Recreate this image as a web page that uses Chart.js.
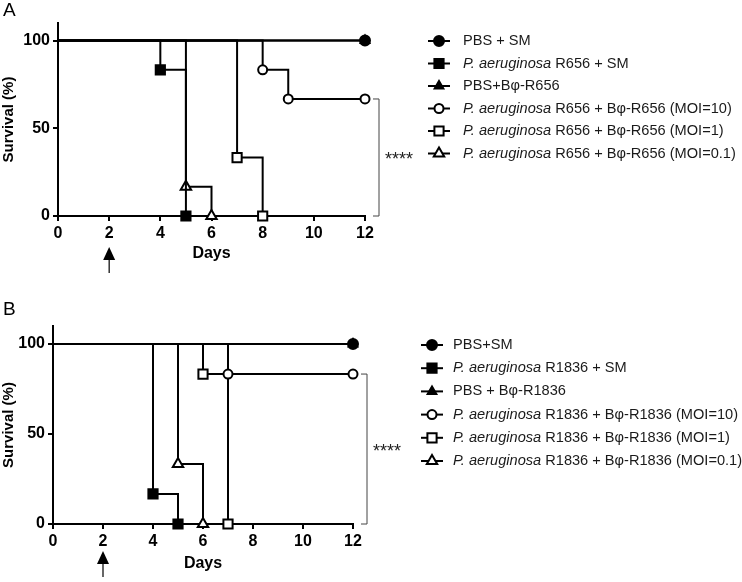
<!DOCTYPE html>
<html>
<head>
<meta charset="utf-8">
<script src="https://cdn.jsdelivr.net/npm/chart.js@4.4.0/dist/chart.umd.min.js"></script>
<style>
  html, body { margin: 0; padding: 0; background: #fff; }
  #wrap { position: relative; width: 742px; height: 582px; }
  .panel { position: absolute; left: 0; width: 742px; }
  #panelA { top: 0; height: 290px; }
  #panelB { top: 290px; height: 292px; }
</style>
</head>
<body>
<div id="wrap">
  <div class="panel" id="panelA"><canvas id="chartA"></canvas></div>
  <div class="panel" id="panelB"><canvas id="chartB"></canvas></div>
</div>
<script>
// ---- data ----
const xTicks = [0, 2, 4, 6, 8, 10, 12];
const yTicks = [0, 50, 100];
const arrowDay = 2;

// Panel A (R656)
const labelsA = [
    'PBS + SM',
    'P. aeruginosa R656 + SM',
    'PBS+B\u03c6-R656',
    'P. aeruginosa R656 + B\u03c6-R656 (MOI=10)',
    'P. aeruginosa R656 + B\u03c6-R656 (MOI=1)',
    'P. aeruginosa R656 + B\u03c6-R656 (MOI=0.1)',
];
const daysA = [[0, 12], [0, 4, 5], [0, 12], [0, 8, 9, 12], [0, 7, 8], [0, 5, 6]];
const survA = [[100, 100], [100, 83.3, 0], [100, 100], [100, 83.3, 66.7, 66.7], [100, 33.3, 0], [100, 16.7, 0]];
const bracketA = [66.7, 0];

// Panel B (R1836)
const labelsB = [
    'PBS+SM',
    'P. aeruginosa R1836 + SM',
    'PBS + B\u03c6-R1836',
    'P. aeruginosa R1836 + B\u03c6-R1836 (MOI=10)',
    'P. aeruginosa R1836 + B\u03c6-R1836 (MOI=1)',
    'P. aeruginosa R1836 + B\u03c6-R1836 (MOI=0.1)',
];
const daysB = [[0, 12], [0, 4, 5], [0, 12], [0, 7, 12], [0, 6, 7], [0, 5, 6]];
const survB = [[100, 100], [100, 16.7, 0], [100, 100], [100, 83.3, 83.3], [100, 83.3, 0], [100, 33.3, 0]];
const bracketB = [83.3, 0];

const significance = '****';

// marker look per series (same order in both panels)
const markers = [
    { style: 'circle', filled: true, r: 5 },
    { style: 'rect', filled: true, r: 6.5 },
    { style: 'triangle', filled: true, r: 5 },
    { style: 'circle', filled: false, r: 4.5 },
    { style: 'rect', filled: false, r: 6.5 },
    { style: 'triangle', filled: false, r: 6 },
];

const FONT = 'Arial, "Liberation Sans", sans-serif';
Chart.defaults.font.family = FONT;
Chart.defaults.color = '#000';

function buildDatasets(labels, days, surv) {
    return labels.map((label, i) => {
        const m = markers[i];
        return {
            label,
            data: days[i].map((d, j) => ({ x: d, y: surv[i][j] })),
            stepped: 'before',
            borderColor: '#000',
            borderWidth: 2,
            pointStyle: m.style,
            pointRadius: (ctx) => (ctx.dataIndex === 0 ? 0 : m.r),
            pointBorderWidth: 2,
            pointBorderColor: '#000',
            pointBackgroundColor: m.filled ? '#000' : '#fff',
            legendRadius: m.r,
            fill: false,
            clip: false,
        };
    });
}

// legend, bracket, arrow, panel letter
const extrasPlugin = {
    id: 'extras',
    afterDraw(chart, args, o) {
        const ctx = chart.ctx;
        const { x, y } = chart.scales;
        const area = chart.chartArea;
        ctx.save();

        // panel letter
        ctx.fillStyle = '#000';
        ctx.font = '19px ' + FONT;
        ctx.textAlign = 'left';
        ctx.textBaseline = 'alphabetic';
        ctx.fillText(o.letter, 3, o.letterY);

        // legend
        const italic = 'P. aeruginosa';
        chart.data.datasets.forEach((ds, i) => {
            const ly = o.legendY + i * o.legendDy;
            ctx.strokeStyle = '#000';
            ctx.lineWidth = 2;
            ctx.beginPath();
            ctx.moveTo(o.markX - 11, ly);
            ctx.lineTo(o.markX + 11, ly);
            ctx.stroke();
            ctx.fillStyle = ds.pointBackgroundColor;
            Chart.helpers.drawPoint(ctx, { pointStyle: ds.pointStyle, radius: ds.legendRadius, borderWidth: 2, rotation: 0 }, o.markX, ly);

            let tx = o.textX;
            let rest = ds.label;
            ctx.fillStyle = '#1a1a1a';
            ctx.textBaseline = 'middle';
            if (rest.startsWith(italic)) {
                ctx.font = 'italic 14.6px ' + FONT;
                ctx.fillText(italic, tx, ly);
                tx += ctx.measureText(italic).width;
                rest = rest.slice(italic.length);
            }
            ctx.font = '14.6px ' + FONT;
            ctx.fillText(rest, tx, ly);
        });

        // significance bracket
        const yTop = y.getPixelForValue(o.bracket[0]);
        const yBot = y.getPixelForValue(o.bracket[1]);
        const bx1 = area.right + 8;
        const bx2 = area.right + 14;
        ctx.strokeStyle = '#444';
        ctx.lineWidth = 1;
        ctx.beginPath();
        ctx.moveTo(bx1, yTop);
        ctx.lineTo(bx2, yTop);
        ctx.lineTo(bx2, yBot);
        ctx.lineTo(bx1, yBot);
        ctx.stroke();
        ctx.fillStyle = '#222';
        ctx.font = '18px ' + FONT;
        ctx.textBaseline = 'alphabetic';
        ctx.fillText(significance, bx2 + 6, (yTop + yBot) / 2 + 8);

        // treatment arrow
        const ax = x.getPixelForValue(arrowDay);
        const top = area.bottom + o.arrowOffset;
        ctx.fillStyle = '#000';
        ctx.beginPath();
        ctx.moveTo(ax, top);
        ctx.lineTo(ax - 6, top + 13);
        ctx.lineTo(ax + 6, top + 13);
        ctx.closePath();
        ctx.fill();
        ctx.strokeStyle = '#000';
        ctx.lineWidth = 1.2;
        ctx.beginPath();
        ctx.moveTo(ax, top + 12);
        ctx.lineTo(ax, top + 26);
        ctx.stroke();

        ctx.restore();
    },
};

function makeChart(id, labels, days, surv, geo, extras) {
    return new Chart(document.getElementById(id), {
        type: 'line',
        data: { datasets: buildDatasets(labels, days, surv) },
        options: {
            responsive: true,
            maintainAspectRatio: false,
            animation: false,
            events: [],
            layout: { padding: geo.padding },
            plugins: {
                legend: { display: false },
                tooltip: { enabled: false },
                extras,
            },
            scales: {
                x: {
                    type: 'linear',
                    min: 0,
                    max: 12,
                    afterBuildTicks: (s) => { s.ticks = xTicks.map((v) => ({ value: v })); },
                    afterFit: (s) => { s.height = geo.xHeight; },
                    grid: { drawOnChartArea: false, drawTicks: true, tickLength: 5, color: '#000', lineWidth: 2 },
                    border: { display: true, color: '#000', width: 2 },
                    ticks: { font: { size: 16, weight: 'bold' }, padding: 3, maxRotation: 0 },
                    title: { display: true, text: 'Days', font: { size: 16, weight: 'bold' }, padding: { top: 0, bottom: geo.titlePad } },
                },
                y: {
                    type: 'linear',
                    min: 0,
                    max: 110,
                    afterBuildTicks: (s) => { s.ticks = yTicks.map((v) => ({ value: v })); },
                    afterFit: (s) => { s.width = geo.yWidth; },
                    grid: { drawOnChartArea: false, drawTicks: true, tickLength: 5, color: '#000', lineWidth: 2 },
                    border: { display: true, color: '#000', width: 2 },
                    ticks: { font: { size: 16, weight: 'bold' }, padding: 3 },
                    title: { display: true, text: 'Survival (%)', font: { size: 15, weight: 'bold' }, padding: { top: 0, bottom: 0 } },
                },
            },
        },
        plugins: [extrasPlugin],
    });
}

makeChart('chartA', labelsA, daysA, survA,
    { padding: { left: 0, right: 377, top: 23, bottom: 24 }, xHeight: 50, yWidth: 58, titlePad: 3 },
    { letter: 'A', letterY: 16, legendY: 41, legendDy: 22.5, markX: 439, textX: 463, bracket: bracketA, arrowOffset: 31 });

makeChart('chartB', labelsB, daysB, survB,
    { padding: { left: 0, right: 389, top: 36, bottom: 8 }, xHeight: 50, yWidth: 53, titlePad: 1 },
    { letter: 'B', letterY: 25, legendY: 55, legendDy: 23.2, markX: 432, textX: 453, bracket: bracketB, arrowOffset: 27 });
</script>
</body>
</html>
